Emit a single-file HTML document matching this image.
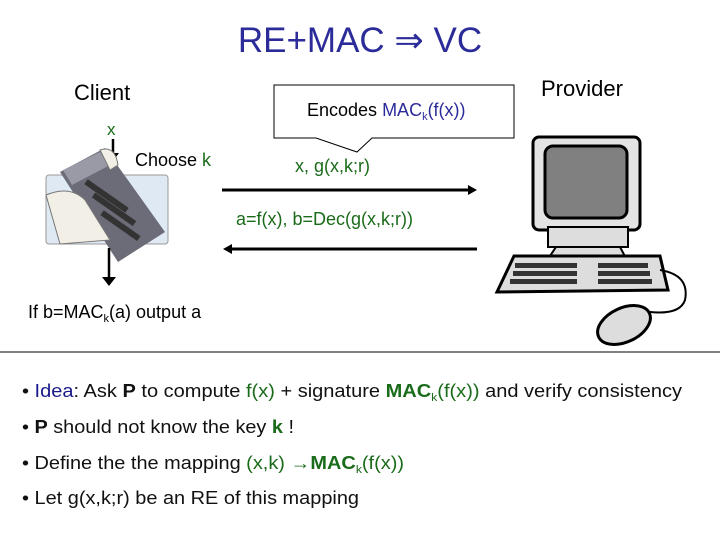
<!DOCTYPE html>
<html><head><meta charset="utf-8"><style>
html,body{margin:0;padding:0;background:#fff;}
svg{display:block;font-family:"Liberation Sans",sans-serif;}
</style></head><body>
<svg width="720" height="540" viewBox="0 0 720 540" xmlns="http://www.w3.org/2000/svg">
<rect width="720" height="540" fill="#fff"/>
<text x="360" y="52" font-size="35" fill="#2b2b9a" text-anchor="middle">RE+MAC ⇒ VC</text>
<text x="74" y="100" font-size="22" fill="#000">Client</text>
<text x="541" y="96" font-size="22" fill="#000">Provider</text>
<!-- callout -->
<path d="M274,85 H514 V138 H372 L357,152 L316,138 H274 Z" fill="#fff" stroke="#000" stroke-width="1"/>
<text x="307" y="116" font-size="18" fill="#000">Encodes <tspan fill="#2b2b9a">MAC<tspan font-size="11" dy="4">k</tspan><tspan dy="-4">(f(x))</tspan></tspan></text>
<text x="107" y="135" font-size="17" fill="#1a6b1a">x</text>
<line x1="113" y1="139" x2="113" y2="155" stroke="#000" stroke-width="2.5"/>
<polygon points="107,153 119,153 113,161" fill="#000"/>
<text x="135" y="166" font-size="18" fill="#000">Choose <tspan fill="#1a6b1a">k</tspan></text>
<text x="295" y="172" font-size="18" fill="#1a6b1a">x, g(x,k;r)</text>
<line x1="222" y1="190" x2="470" y2="190" stroke="#000" stroke-width="3"/>
<polygon points="468,185 477,190 468,195" fill="#000"/>
<text x="236" y="225" font-size="18" fill="#1a6b1a">a=f(x), b=Dec(g(x,k;r))</text>
<line x1="230" y1="249" x2="477" y2="249" stroke="#000" stroke-width="3"/>
<polygon points="232,244 223,249 232,254" fill="#000"/>
<!-- calculator -->
<rect x="46" y="175" width="122" height="69" rx="3" fill="#dfe9f3" stroke="#999"/>
<polygon points="60,172 105,148 165,232 118,262" fill="#6c6c78"/>
<polygon points="63,170 100,152 110,165 72,185" fill="#9a9aa6"/>
<path d="M46,195 Q70,185 85,200 L110,240 L60,244 Z" fill="#f2efe6" stroke="#777"/>
<path d="M100,150 Q115,145 118,165 L110,170 Z" fill="#f2efe6" stroke="#777"/>
<g fill="#333"><rect x="78" y="190" width="50" height="6" transform="rotate(35 100 200)"/><rect x="85" y="205" width="50" height="6" transform="rotate(35 110 215)"/><rect x="95" y="222" width="45" height="6" transform="rotate(35 118 230)"/></g>
<line x1="109" y1="248" x2="109" y2="278" stroke="#000" stroke-width="2.5"/>
<polygon points="102,277 116,277 109,286" fill="#000"/>
<text x="28" y="318" font-size="18" fill="#000">If b=MAC<tspan font-size="11" dy="4">k</tspan><tspan dy="-4">(a) output a</tspan></text>
<!-- computer -->
<rect x="533" y="137" width="107" height="93" rx="6" fill="#e4e4e4" stroke="#000" stroke-width="3"/>
<rect x="545" y="146" width="82" height="72" rx="8" fill="#808080" stroke="#000" stroke-width="3"/>
<rect x="548" y="227" width="80" height="20" fill="#ddd" stroke="#000" stroke-width="2"/>
<polygon points="556,247 620,247 628,262 546,262" fill="#ddd" stroke="#000" stroke-width="2"/>
<polygon points="514,256 660,256 668,290 497,292" fill="#ddd" stroke="#000" stroke-width="3"/>
<g fill="#333"><rect x="515" y="263" width="62" height="5"/><rect x="513" y="271" width="64" height="5"/><rect x="510" y="279" width="67" height="5"/><rect x="598" y="263" width="50" height="5"/><rect x="598" y="271" width="52" height="5"/><rect x="598" y="279" width="54" height="5"/></g>
<path d="M660,270 Q690,275 685,300 Q680,315 650,312" fill="none" stroke="#000" stroke-width="2"/>
<ellipse cx="624" cy="325" rx="28" ry="17" transform="rotate(-25 624 325)" fill="#ddd" stroke="#000" stroke-width="3"/>
<line x1="0" y1="352" x2="720" y2="352" stroke="#000" stroke-width="1"/>
<!-- bullets -->
<g font-size="18" fill="#111">
<text x="22" y="397" textLength="660" lengthAdjust="spacingAndGlyphs">• <tspan fill="#1a1a8a">Idea</tspan>: Ask <tspan font-weight="bold">P</tspan> to compute <tspan fill="#1a6b1a">f(x)</tspan> + signature <tspan fill="#1a6b1a" font-weight="bold">MAC</tspan><tspan fill="#1a6b1a" font-size="11" dy="4">k</tspan><tspan fill="#1a6b1a" dy="-4">(f(x))</tspan> and verify consistency</text>
<text x="22" y="433" textLength="272" lengthAdjust="spacingAndGlyphs">• <tspan font-weight="bold">P</tspan> should not know the key <tspan fill="#1a6b1a" font-weight="bold">k</tspan> !</text>
<text x="22" y="469" textLength="382" lengthAdjust="spacingAndGlyphs">• Define the the mapping <tspan fill="#1a6b1a">(x,k) →</tspan><tspan fill="#1a6b1a" font-weight="bold">MAC</tspan><tspan fill="#1a6b1a" font-size="11" dy="4">k</tspan><tspan fill="#1a6b1a" dy="-4">(f(x))</tspan></text>
<text x="22" y="504" textLength="337" lengthAdjust="spacingAndGlyphs">• Let g(x,k;r) be an RE of this mapping</text>
</g>
</svg>
</body></html>
